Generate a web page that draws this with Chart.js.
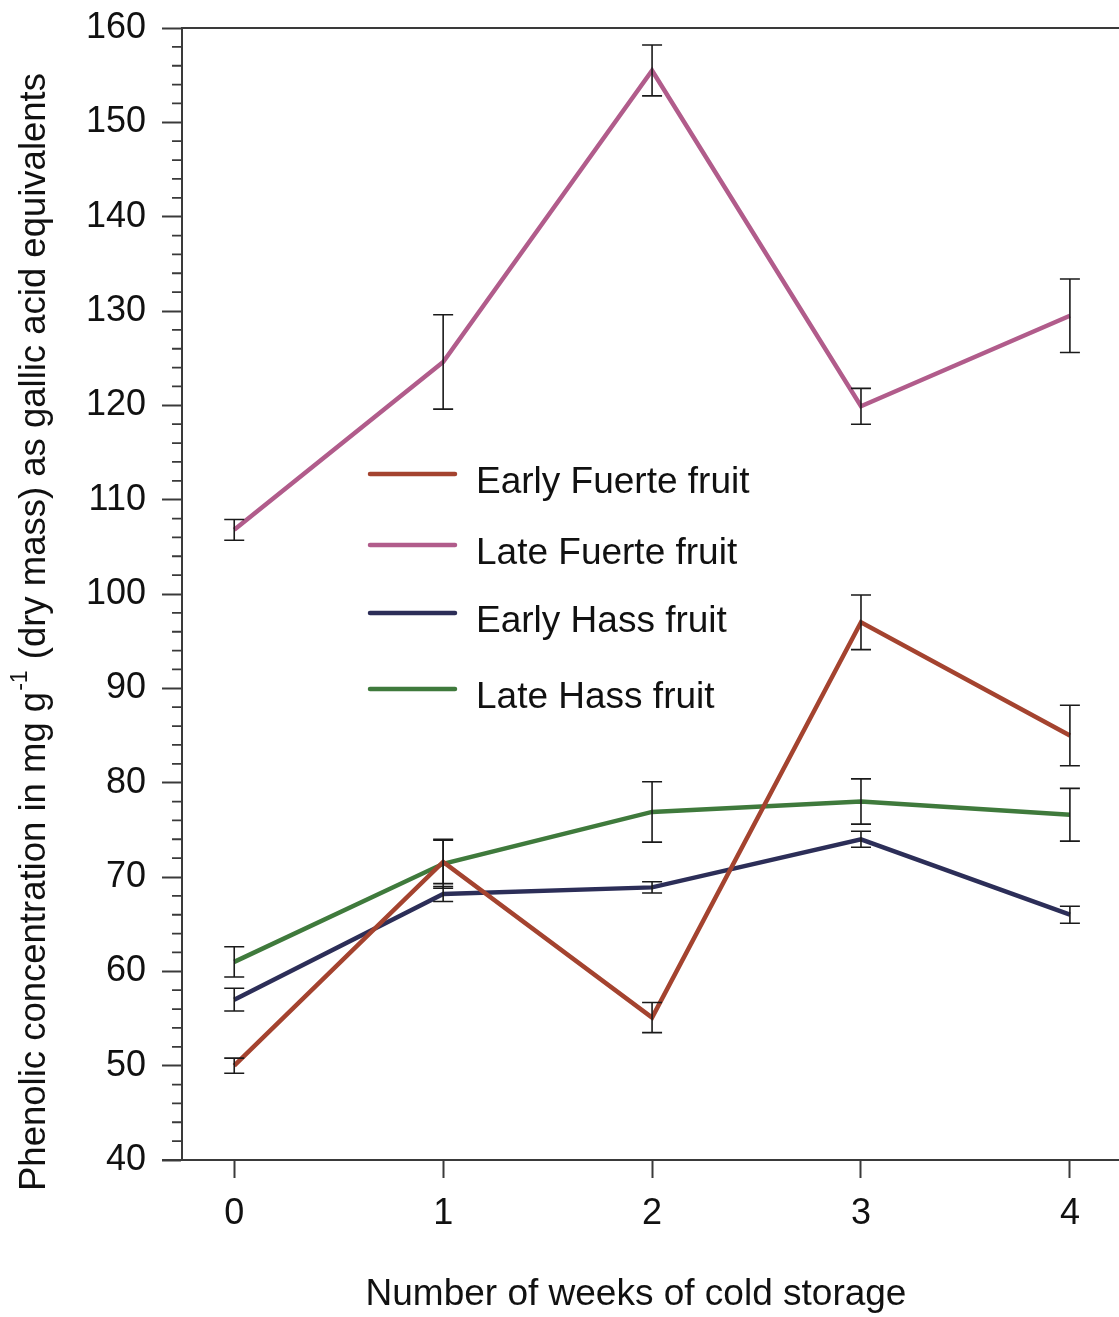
<!DOCTYPE html>
<html>
<head>
<meta charset="utf-8">
<script src="https://cdn.jsdelivr.net/npm/chart.js@4/dist/chart.umd.min.js"></script>
<style>
  html, body { margin: 0; padding: 0; background: #fff; }
  #wrap { width: 1119px; height: 1317px; }
</style>
</head>
<body>
<div id="wrap"><canvas id="phenolChart" width="1119" height="1317"></canvas></div>
<script>
// Phenolic concentration during cold storage
const weeks = [0, 1, 2, 3, 4];

const earlyFuerte = [50.0, 71.6, 55.1, 97.0, 85.0];
const earlyFuerteErr = [0.8, 2.3, 1.6, 2.9, 3.2];

const lateFuerte = [106.8, 124.6, 155.5, 119.9, 129.5];
const lateFuerteErr = [1.1, 5.0, 2.7, 1.9, 3.9];

const earlyHass = [57.0, 68.2, 68.9, 74.0, 66.0];
const earlyHassErr = [1.2, 0.8, 0.6, 0.85, 0.9];

const lateHass = [61.0, 71.4, 76.9, 78.0, 76.6];
const lateHassErr = [1.6, 2.6, 3.2, 2.4, 2.8];

const yTicksMajor = [40, 50, 60, 70, 80, 90, 100, 110, 120, 130, 140, 150, 160];

const FONT = '"Liberation Sans", Arial, Helvetica, sans-serif';
const AXIS_COLOR = '#3a3a3a';

function toPoints(values) {
    return weeks.map((w, i) => ({ x: w, y: values[i] }));
}

function makeSeries(label, values, errors, color) {
    return {
        label: label,
        data: toPoints(values),
        errors: errors,
        borderColor: color,
        backgroundColor: color,
        borderWidth: 4.5,
        pointRadius: 0,
        tension: 0
    };
}

// error bars, extra axis lines, minor ticks, legend and axis titles
const decorations = {
    id: 'decorations',
    afterDatasetsDraw(chart) {
        const ctx = chart.ctx;
        const xs = chart.scales.x;
        const ys = chart.scales.y;
        ctx.save();
        ctx.strokeStyle = '#1a1a1a';
        ctx.lineWidth = 1.6;
        chart.data.datasets.forEach(ds => {
            ds.data.forEach((p, i) => {
                const err = ds.errors[i];
                const px = xs.getPixelForValue(p.x);
                const top = ys.getPixelForValue(p.y + err);
                const bot = ys.getPixelForValue(p.y - err);
                ctx.beginPath();
                ctx.moveTo(px, top); ctx.lineTo(px, bot);
                ctx.moveTo(px - 10, top); ctx.lineTo(px + 10, top);
                ctx.moveTo(px - 10, bot); ctx.lineTo(px + 10, bot);
                ctx.stroke();
            });
        });
        ctx.restore();
    },
    afterDraw(chart) {
        const ctx = chart.ctx;
        const area = chart.chartArea;
        const ys = chart.scales.y;
        ctx.save();
        ctx.strokeStyle = AXIS_COLOR;
        ctx.lineWidth = 2;

        // top frame and x axis line running past the y axis
        ctx.beginPath();
        ctx.moveTo(area.left, area.top); ctx.lineTo(chart.width, area.top);
        ctx.moveTo(area.left - 20, area.bottom); ctx.lineTo(chart.width, area.bottom);
        ctx.stroke();

        // minor ticks on y axis
        ctx.lineWidth = 1.8;
        ctx.beginPath();
        for (let v = ys.min; v <= ys.max; v += 2) {
            if (v % 10 === 0) continue;
            const py = ys.getPixelForValue(v);
            ctx.moveTo(area.left - 10, py); ctx.lineTo(area.left, py);
        }
        ctx.stroke();

        // legend
        const legendX = 370;
        const legendY = [483, 554, 622, 698];
        ctx.font = '37px ' + FONT;
        ctx.textBaseline = 'middle';
        ctx.fillStyle = '#111';
        chart.data.datasets.forEach((ds, i) => {
            const y = legendY[i];
            ctx.strokeStyle = ds.borderColor;
            ctx.lineWidth = 4.5;
            ctx.lineCap = 'round';
            ctx.beginPath();
            ctx.moveTo(legendX, y - 9); ctx.lineTo(legendX + 85, y - 9);
            ctx.stroke();
            ctx.fillText(ds.label, legendX + 106, y);
        });

        // x axis title
        ctx.textAlign = 'center';
        ctx.textBaseline = 'middle';
        ctx.font = '37px ' + FONT;
        ctx.fillText('Number of weeks of cold storage', 636, 1295);

        // y axis title with superscript
        const before = 'Phenolic concentration in mg g';
        const sup = '-1';
        const after = ' (dry mass) as gallic acid equivalents';
        const mainFont = '36.5px ' + FONT;
        const supFont = '23px ' + FONT;
        ctx.font = mainFont;
        const wBefore = ctx.measureText(before).width;
        const wAfter = ctx.measureText(after).width;
        ctx.font = supFont;
        const wSup = ctx.measureText(sup).width + 2;
        const total = wBefore + wSup + wAfter;
        ctx.translate(35, 632);
        ctx.rotate(-Math.PI / 2);
        ctx.textAlign = 'left';
        let x0 = -total / 2;
        ctx.font = mainFont;
        ctx.fillText(before, x0, 0);
        ctx.font = supFont;
        ctx.fillText(sup, x0 + wBefore + 1, -14);
        ctx.font = mainFont;
        ctx.fillText(after, x0 + wBefore + wSup, 0);
        ctx.restore();
    }
};

new Chart(document.getElementById('phenolChart'), {
    type: 'line',
    data: {
        datasets: [
            makeSeries('Early Fuerte fruit', earlyFuerte, earlyFuerteErr, '#a4432f'),
            makeSeries('Late Fuerte fruit', lateFuerte, lateFuerteErr, '#b15c8b'),
            makeSeries('Early Hass fruit', earlyHass, earlyHassErr, '#2c2e58'),
            makeSeries('Late Hass fruit', lateHass, lateHassErr, '#3f7a3c')
        ]
    },
    options: {
        responsive: false,
        animation: false,
        layout: { padding: { top: 28, right: 0, left: 0, bottom: 0 } },
        plugins: {
            legend: { display: false },
            tooltip: { enabled: false }
        },
        scales: {
            x: {
                type: 'linear',
                min: -0.25,
                max: 4.235,
                afterBuildTicks: scale => { scale.ticks = weeks.map(w => ({ value: w })); },
                afterFit: scale => {
                    scale.height = 157;
                    scale.paddingLeft = 0;
                    scale.paddingRight = 0;
                },
                border: { display: false },
                grid: {
                    drawOnChartArea: false,
                    tickLength: 18,
                    tickWidth: 2,
                    color: AXIS_COLOR
                },
                ticks: {
                    color: '#111',
                    padding: 14,
                    font: { size: 36, family: FONT },
                    maxRotation: 0
                }
            },
            y: {
                min: 40,
                max: 160,
                afterBuildTicks: scale => { scale.ticks = yTicksMajor.map(v => ({ value: v })); },
                afterFit: scale => {
                    scale.width = 182;
                    scale.paddingTop = 0;
                    scale.paddingBottom = 0;
                },
                border: { display: true, color: AXIS_COLOR, width: 2 },
                grid: {
                    drawOnChartArea: false,
                    tickLength: 20,
                    tickWidth: 2,
                    color: AXIS_COLOR
                },
                ticks: {
                    color: '#111',
                    padding: 16,
                    font: { size: 36, family: FONT }
                }
            }
        }
    },
    plugins: [decorations]
});
</script>
</body>
</html>
